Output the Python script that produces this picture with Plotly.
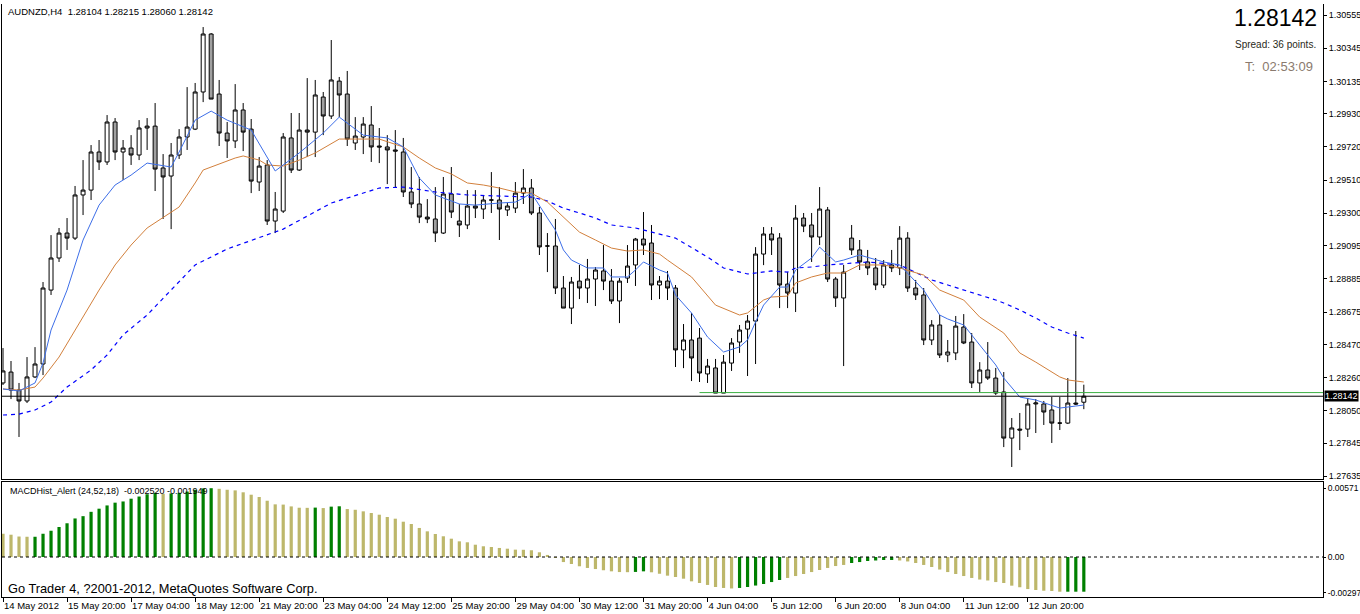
import plotly.graph_objects as go

# ---------------- data ----------------
SYMBOL_TITLE = "AUDNZD,H4  1.28104 1.28215 1.28060 1.28142"
BID = 1.28142
ASK_LINE = 1.28165
ASK_LINE_START = 87

OPEN = [1.28226,1.28295,1.28181,1.28112,1.28264,1.28346,1.28814,1.29017,1.29175,1.29143,
        1.29416,1.29447,1.29688,1.29625,1.29878,1.29688,1.29713,1.29669,1.29840,1.29852,
        1.29587,1.29536,1.29669,1.29783,1.29833,1.30068,1.30435,1.30055,1.29808,1.29758,
        1.29954,1.29833,1.29498,1.29606,1.29251,1.29314,1.29777,1.29574,1.29827,1.29814,
        1.30036,1.29916,1.30137,1.30055,1.29745,1.29783,1.29859,1.29726,1.29720,1.29701,
        1.29688,1.29435,1.29359,1.29276,1.29264,1.29175,1.29422,1.29251,1.29226,1.29346,
        1.29327,1.29384,1.29384,1.29321,1.29333,1.29428,1.29460,1.29302,1.29093,1.29093,
        1.28827,1.28700,1.28871,1.28827,1.28884,1.28935,1.28871,1.28745,1.28890,1.28973,
        1.29137,1.29112,1.28846,1.28871,1.28827,1.28435,1.28498,1.28510,1.28283,1.28321,
        1.28162,1.28352,1.28485,1.28567,1.28618,1.29042,1.29169,1.29144,1.28852,1.28795,
        1.29270,1.29226,1.29150,1.29321,1.28884,1.28764,1.29143,1.29068,1.28992,1.28954,
        1.28846,1.28973,1.28954,1.29143,1.28827,1.28783,1.28498,1.28593,1.28403,1.28416,
        1.28580,1.28485,1.28226,1.28308,1.28257,1.28169,1.27877,1.27934,1.27934,1.28093,
        1.28093,1.28055,1.27972,1.27972,1.28099,1.28104]
HIGH = [1.28447,1.28365,1.28226,1.28390,1.28453,1.28865,1.29162,1.29207,1.29270,1.29473,
        1.29637,1.29732,1.29764,1.29922,1.29903,1.29764,1.29795,1.29890,1.29903,1.29998,
        1.29675,1.29745,1.29833,1.30099,1.30125,1.30479,1.30441,1.30144,1.29878,1.30118,
        1.29998,1.29897,1.29656,1.29637,1.29435,1.29808,1.29935,1.29935,1.30156,1.30144,
        1.30068,1.30397,1.30163,1.30201,1.29909,1.29909,1.29979,1.29840,1.29795,1.29827,
        1.29777,1.29593,1.29530,1.29390,1.29466,1.29530,1.29593,1.29359,1.29447,1.29447,
        1.29416,1.29561,1.29466,1.29365,1.29498,1.29580,1.29517,1.29340,1.29175,1.29264,
        1.28903,1.28897,1.28973,1.29011,1.28960,1.29099,1.28947,1.28890,1.29099,1.29144,
        1.29308,1.29226,1.28903,1.28935,1.28846,1.28599,1.28669,1.28574,1.28378,1.28378,
        1.28403,1.28510,1.28593,1.28656,1.29086,1.29213,1.29213,1.29175,1.28928,1.29352,
        1.29302,1.29302,1.29466,1.29340,1.28897,1.28973,1.29226,1.29131,1.29068,1.29017,
        1.29004,1.29068,1.29219,1.29181,1.28878,1.28827,1.28624,1.28656,1.28498,1.28650,
        1.28662,1.28542,1.28358,1.28485,1.28321,1.28295,1.28004,1.28036,1.28131,1.28124,
        1.28112,1.28137,1.28137,1.28257,1.28555,1.28215]
LOW = [1.28213,1.28124,1.27884,1.28099,1.28257,1.28276,1.28783,1.28992,1.29068,1.29131,
       1.29289,1.29384,1.29574,1.29606,1.29637,1.29511,1.29606,1.29637,1.29701,1.29441,
       1.29264,1.29200,1.29644,1.29701,1.29827,1.30004,1.30023,1.29726,1.29650,1.29713,
       1.29694,1.29428,1.29441,1.29226,1.29175,1.29302,1.29555,1.29568,1.29656,1.29656,
       1.29795,1.29897,1.29909,1.29726,1.29701,1.29675,1.29625,1.29618,1.29485,1.29466,
       1.29403,1.29333,1.29238,1.29238,1.29118,1.29169,1.29270,1.29150,1.29200,1.29270,
       1.29264,1.29302,1.29131,1.29283,1.29302,1.29359,1.29289,1.29036,1.28928,1.28789,
       1.28700,1.28599,1.28757,1.28732,1.28713,1.28814,1.28726,1.28605,1.28859,1.28840,
       1.29036,1.28751,1.28757,1.28751,1.28327,1.28320,1.28238,1.28232,1.28226,1.28162,
       1.28162,1.28302,1.28416,1.28270,1.28346,1.28972,1.29036,1.28700,1.28700,1.28675,
       1.29181,1.28992,1.29099,1.28865,1.28707,1.28333,1.29036,1.28941,1.28909,1.28814,
       1.28827,1.28928,1.28909,1.28802,1.28751,1.28466,1.28466,1.28384,1.28358,1.28371,
       1.28472,1.28194,1.28169,1.28245,1.28150,1.27820,1.27694,1.27801,1.27884,1.27909,
       1.27960,1.27846,1.27928,1.27966,1.28086,1.28060]
CLOSE = [1.28302,1.28181,1.28112,1.28264,1.28346,1.28827,1.29017,1.29175,1.29143,1.29416,
         1.29447,1.29688,1.29625,1.29878,1.29688,1.29713,1.29669,1.29840,1.29852,1.29580,
         1.29530,1.29669,1.29783,1.29846,1.30068,1.30435,1.30023,1.29808,1.29758,1.29954,
         1.29814,1.29504,1.29599,1.29251,1.29327,1.29783,1.29574,1.29827,1.29814,1.30049,
         1.29916,1.30144,1.30049,1.29770,1.29789,1.29865,1.29720,1.29720,1.29701,1.29694,
         1.29435,1.29359,1.29276,1.29264,1.29175,1.29422,1.29308,1.29226,1.29346,1.29333,
         1.29384,1.29384,1.29327,1.29346,1.29428,1.29460,1.29302,1.29087,1.29093,1.28827,
         1.28700,1.28865,1.28827,1.28884,1.28941,1.28871,1.28745,1.28871,1.28966,1.29137,
         1.29099,1.28846,1.28871,1.28827,1.28435,1.28498,1.28384,1.28289,1.28333,1.28162,
         1.28358,1.28479,1.28561,1.28618,1.29042,1.29169,1.29131,1.28846,1.28795,1.29270,
         1.29219,1.29150,1.29327,1.28884,1.28764,1.28928,1.29068,1.28992,1.28954,1.28846,
         1.28973,1.28954,1.29143,1.28827,1.28783,1.28498,1.28593,1.28403,1.28422,1.28586,
         1.28479,1.28226,1.28308,1.28257,1.28162,1.27877,1.27941,1.27928,1.28093,1.28099,
         1.28042,1.27972,1.27972,1.28099,1.28093,1.28142]

# moving averages: bar index, value
MA_FAST_BARS = [0,2,4,5,6,8,10,12,14,16,18,21,22,24,26,28,31,34,37,40,42,45,48,50,52,54,57,59,62,64,
                65,66,68,69,70,71,73,75,76,78,79,80,82,83,84,86,88,90,92,93,94,95,97,98,99,101,102,
                104,105,107,110,112,115,117,118,120,122,124,125,127,129,131,132,134,135]
MA_FAST = [1.28188,1.28175,1.28226,1.28352,1.28561,1.28814,1.29131,1.29352,1.29479,1.29542,
           1.29618,1.29593,1.29688,1.29890,1.29947,1.29890,1.29827,1.29568,1.29682,1.29808,
           1.29909,1.29795,1.29777,1.29720,1.29523,1.29416,1.29359,1.29352,1.29365,1.29371,
           1.29397,1.29428,1.29270,1.29194,1.29068,1.29004,1.28954,1.28954,1.28897,1.28897,
           1.28941,1.28992,1.28941,1.28922,1.28783,1.28669,1.28517,1.28422,1.28454,1.28498,
           1.28612,1.28719,1.28833,1.28833,1.28941,1.29017,1.29086,1.28992,1.29004,1.29036,
           1.28992,1.28973,1.28814,1.28656,1.28631,1.28593,1.28466,1.28340,1.28257,1.28137,
           1.28118,1.28086,1.28067,1.28080,1.28086]
MA_MID_BARS = [0,2,4,5,7,9,12,14,16,18,22,24,25,29,30,32,33,35,37,39,42,47,50,52,54,56,58,60,62,64,
               66,68,70,72,74,76,78,80,82,83,86,89,92,93,95,96,98,99,101,103,105,107,110,112,115,117,
               120,122,125,127,129,131,132,133,135]
MA_MID = [1.28188,1.28181,1.28200,1.28257,1.28390,1.28561,1.28814,1.28973,1.29099,1.29207,
          1.29340,1.29492,1.29574,1.29650,1.29663,1.29637,1.29606,1.29599,1.29637,1.29682,
          1.29770,1.29770,1.29720,1.29650,1.29587,1.29549,1.29492,1.29479,1.29460,1.29435,
          1.29428,1.29371,1.29276,1.29181,1.29131,1.29080,1.29061,1.29068,1.29042,1.29004,
          1.28897,1.28719,1.28656,1.28669,1.28751,1.28770,1.28776,1.28859,1.28897,1.28922,
          1.28922,1.28973,1.28973,1.28954,1.28909,1.28814,1.28751,1.28643,1.28542,1.28416,
          1.28358,1.28295,1.28264,1.28245,1.28232]
MA_SLOW_BARS = [0,2,4,6,8,11,13,15,18,21,24,28,35,41,47,50,54,58,62,66,68,70,72,74,76,79,84,88,90,92,
                93,96,98,99,101,103,105,108,112,116,124,125,127,129,131,133,135]
MA_SLOW = [1.28023,1.28029,1.28055,1.28105,1.28200,1.28308,1.28403,1.28530,1.28656,1.28814,
           1.28973,1.29074,1.29200,1.29365,1.29460,1.29466,1.29435,1.29416,1.29409,1.29403,
           1.29378,1.29333,1.29302,1.29270,1.29226,1.29207,1.29143,1.29023,1.28954,1.28928,
           1.28916,1.28935,1.28928,1.28954,1.28960,1.28973,1.28979,1.28992,1.28973,1.28878,
           1.28751,1.28732,1.28688,1.28637,1.28580,1.28542,1.28510]

MACD_LABEL = "MACDHist_Alert (24,52,18)  -0.002520 -0.001949"
MACD = [0.00193,0.00185,0.00170,0.00168,0.00168,0.00193,0.00218,0.00249,0.00280,0.00320,
        0.00339,0.00375,0.00401,0.00428,0.00451,0.00461,0.00484,0.00502,0.00521,0.00533,
        0.00525,0.00528,0.00533,0.00543,0.00558,0.00569,0.00571,0.00566,0.00558,0.00553,
        0.00537,0.00517,0.00498,0.00467,0.00437,0.00435,0.00420,0.00409,0.00408,0.00410,
        0.00406,0.00418,0.00421,0.00398,0.00392,0.00379,0.00365,0.00351,0.00332,0.00318,
        0.00293,0.00274,0.00241,0.00213,0.00191,0.00172,0.00152,0.00130,0.00122,0.00102,
        0.00089,0.00083,0.00075,0.00069,0.00061,0.00060,0.00056,0.00039,0.00017,-0.00008,
        -0.00042,-0.00058,-0.00077,-0.00091,-0.00100,-0.00110,-0.00119,-0.00125,-0.00126,-0.00124,
        -0.00119,-0.00127,-0.00139,-0.00155,-0.00166,-0.00180,-0.00202,-0.00216,-0.00232,-0.00249,
        -0.00257,-0.00261,-0.00257,-0.00249,-0.00237,-0.00224,-0.00208,-0.00191,-0.00174,-0.00158,
        -0.00141,-0.00125,-0.00108,-0.00091,-0.00075,-0.00066,-0.00050,-0.00042,-0.00033,-0.00029,
        -0.00025,-0.00025,-0.00029,-0.00037,-0.00050,-0.00066,-0.00083,-0.00104,-0.00125,-0.00141,
        -0.00158,-0.00174,-0.00187,-0.00195,-0.00208,-0.00216,-0.00238,-0.00251,-0.00266,-0.00274,
        -0.00280,-0.00282,-0.00288,-0.00288,-0.00288,-0.00288]
# colour of each histogram bar: G = green, T = khaki
MACD_COLOR = (["T"] * 4 + ["G"] * 16 + ["T"] + ["G"] * 6 + ["T"] * 12 + ["G"] + ["T"] + ["G"] * 2 +
              ["T"] * 36 + ["G"] * 2 + ["T"] * 11 + ["G"] * 6 + ["T"] * 8 + ["G"] * 6 +
              ["T"] * 21 + ["G"] * 3)

TIME_LABELS = ["14 May 2012", "15 May 20:00", "17 May 04:00", "18 May 12:00", "21 May 20:00",
               "23 May 04:00", "24 May 12:00", "25 May 20:00", "29 May 04:00", "30 May 12:00",
               "31 May 20:00", "4 Jun 04:00", "5 Jun 12:00", "6 Jun 20:00", "8 Jun 04:00",
               "11 Jun 12:00", "12 Jun 20:00"]
PRICE_TICKS = [1.30555, 1.30345, 1.30135, 1.29930, 1.29720, 1.29510, 1.29300, 1.29095,
               1.28885, 1.28675, 1.28470, 1.28260, 1.28050, 1.27845, 1.27635]
MACD_TICKS = [0.00571, 0.0, -0.00297]
MACD_TICK_TEXT = ["0.00571", "0.00", "-0.00297"]

# ---------------- layout helpers ----------------
W, H = 1360, 614
ML, MR, MT, MB = 2, 37, 4, 17
PW, PH = W - ML - MR, H - MT - MB
def fx(x):
    return (x - ML) / PW
def fy(y):
    return (H - MB - y) / PH

N = len(CLOSE)
bars = list(range(N))
FONT = "Liberation Sans, Arial, sans-serif"

fig = go.Figure()
fig.add_trace(go.Candlestick(
    x=bars, open=OPEN, high=HIGH, low=LOW, close=CLOSE,
    increasing=dict(line=dict(color="black", width=1), fillcolor="white"),
    decreasing=dict(line=dict(color="black", width=1), fillcolor="#a0a0a0"),
    whiskerwidth=0, xaxis="x2", yaxis="y", showlegend=False, hoverinfo="skip"))
fig.add_trace(go.Scatter(x=MA_SLOW_BARS, y=MA_SLOW, mode="lines", xaxis="x2", yaxis="y",
                         line=dict(color="#0000ff", width=1.2, dash="4px,4px"),
                         showlegend=False, hoverinfo="skip"))
fig.add_trace(go.Scatter(x=MA_MID_BARS, y=MA_MID, mode="lines", xaxis="x2", yaxis="y",
                         line=dict(color="#d2803c", width=1), showlegend=False, hoverinfo="skip"))
fig.add_trace(go.Scatter(x=MA_FAST_BARS, y=MA_FAST, mode="lines", xaxis="x2", yaxis="y",
                         line=dict(color="#3d6ee8", width=1), showlegend=False, hoverinfo="skip"))

gx = [i for i in bars if MACD_COLOR[i] == "G"]
tx = [i for i in bars if MACD_COLOR[i] == "T"]
fig.add_trace(go.Bar(x=tx, y=[MACD[i] for i in tx], marker=dict(color="#bdb76b", line=dict(width=0)),
                     width=0.4, xaxis="x", yaxis="y2", showlegend=False, hoverinfo="skip"))
fig.add_trace(go.Bar(x=gx, y=[MACD[i] for i in gx], marker=dict(color="#008000", line=dict(width=0)),
                     width=0.4, xaxis="x", yaxis="y2", showlegend=False, hoverinfo="skip"))

XR = [-0.125, (PW - 1) / 8.0 - 0.125]
main_dom = [fy(479), 1]
macd_dom = [0, fy(482)]

fig.update_layout(
    width=W, height=H, margin=dict(l=ML, r=MR, t=MT, b=MB, autoexpand=False),
    paper_bgcolor="white", plot_bgcolor="white", barmode="overlay",
    font=dict(family=FONT, color="black", size=9),
    xaxis=dict(domain=[0, 1], range=XR, anchor="y2", showgrid=False, zeroline=False,
               showline=True, linecolor="black", linewidth=1, mirror=True, automargin=False,
               tickmode="array", tickvals=[8 * k for k in range(len(TIME_LABELS))],
               ticktext=TIME_LABELS, ticks="outside", ticklen=4, tickcolor="black",
               tickangle=0, ticklabelposition="outside right",
               tickfont=dict(size=9.5, family=FONT), rangeslider=dict(visible=False)),
    xaxis2=dict(domain=[0, 1], range=XR, anchor="y", matches="x", showgrid=False, zeroline=False,
                showline=True, linecolor="black", linewidth=1, mirror=False, automargin=False,
                showticklabels=False, ticks="", rangeslider=dict(visible=False)),
    yaxis=dict(domain=main_dom, range=[1.27618, 1.30625], side="right", showgrid=False,
               zeroline=False, showline=True, linecolor="black", linewidth=1, mirror=True,
               automargin=False, tickmode="array", tickvals=PRICE_TICKS,
               ticktext=[f"{v:.5f}" for v in PRICE_TICKS],
               ticks="outside", ticklen=3, tickcolor="black", tickfont=dict(size=9, family=FONT)),
    yaxis2=dict(domain=macd_dom, range=[-0.00332, 0.006225], side="right", showgrid=False,
                zeroline=False, showline=True, linecolor="black", linewidth=1, mirror=True,
                automargin=False, tickmode="array", tickvals=MACD_TICKS, ticktext=MACD_TICK_TEXT,
                ticks="outside", ticklen=2, tickcolor="black", tickfont=dict(size=8.5, family=FONT)),
)

fig.add_shape(type="line", xref="paper", x0=0, x1=1, yref="y2", y0=0, y1=0,
              line=dict(color="black", width=1, dash="3px,3px"))
fig.add_shape(type="line", xref="paper", x0=0, x1=1, yref="y", y0=BID, y1=BID,
              line=dict(color="black", width=1))
fig.add_shape(type="line", xref="x2", x0=ASK_LINE_START, x1=XR[1], yref="y", y0=ASK_LINE, y1=ASK_LINE,
              line=dict(color="#3cb043", width=1))

ann = [
    dict(x=fx(6), y=fy(11), text=SYMBOL_TITLE, xanchor="left", yanchor="middle",
         font=dict(size=9.5, color="black")),
    dict(x=fx(1319), y=fy(18), text=f"{BID:.5f}", xanchor="right", yanchor="middle",
         font=dict(size=23, color="black")),
    dict(x=fx(1318), y=fy(44), text="Spread: 36 points.", xanchor="right", yanchor="middle",
         font=dict(size=10, color="#2a2a1a")),
    dict(x=fx(1315), y=fy(66), text="T:  02:53:09", xanchor="right", yanchor="middle",
         font=dict(size=13, color="#8a7a6e")),
    dict(x=fx(8), y=fy(491), text=MACD_LABEL, xanchor="left", yanchor="middle",
         font=dict(size=9, color="black")),
    dict(x=fx(6), y=fy(588), text="Go Trader 4, ?2001-2012, MetaQuotes Software Corp.",
         xanchor="left", yanchor="middle", font=dict(size=12.8, color="black")),
    dict(x=fx(1324), y=BID, yref="y", text=f"{BID:.5f}", xanchor="left", yanchor="middle",
         font=dict(size=9, color="white"), bgcolor="black", borderpad=0),
]
for a in ann:
    a.setdefault("xref", "paper")
    a.setdefault("yref", "paper")
    a["showarrow"] = False
    fig.add_annotation(**a)

fig.write_html("out.html")
